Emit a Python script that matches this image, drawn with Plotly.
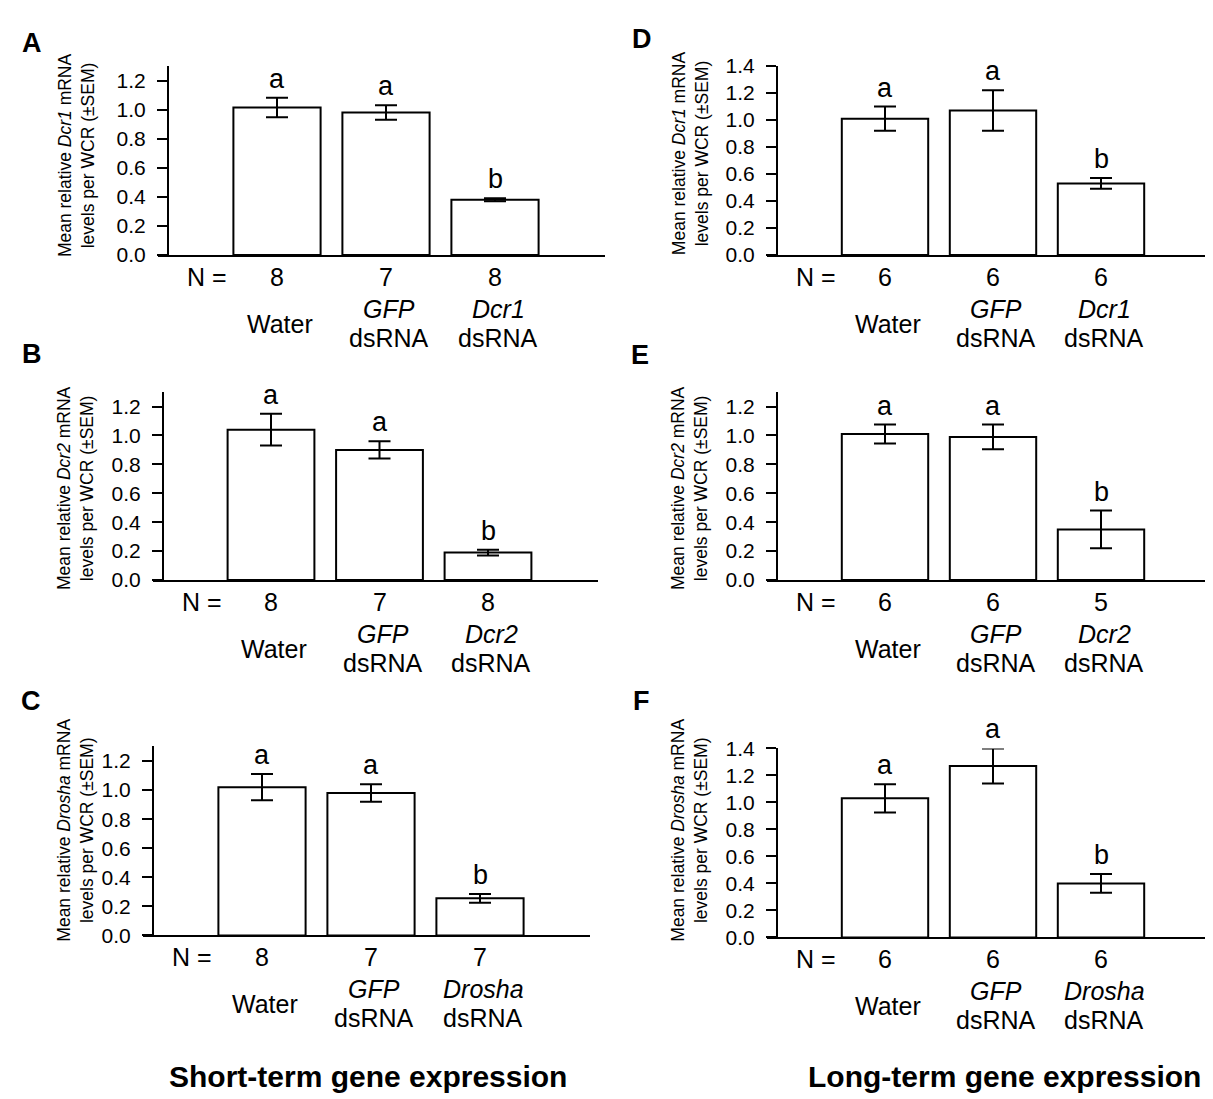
import plotly.graph_objects as go

W, H = 1213, 1099
FONT = "Liberation Sans, Arial, Helvetica, sans-serif"

# ---------------- data ----------------
panel_letters = ["A", "B", "C", "D", "E", "F"]
genes = ["Dcr1", "Dcr2", "Drosha", "Dcr1", "Dcr2", "Drosha"]

means_A = [1.015, 0.98, 0.38]
sem_A = [0.067, 0.05, 0.01]
n_A = [8, 7, 8]
sig_A = ["a", "a", "b"]

means_B = [1.04, 0.90, 0.19]
sem_B = [0.11, 0.06, 0.02]
n_B = [8, 7, 8]
sig_B = ["a", "a", "b"]

means_C = [1.02, 0.98, 0.255]
sem_C = [0.09, 0.06, 0.03]
n_C = [8, 7, 7]
sig_C = ["a", "a", "b"]

means_D = [1.01, 1.07, 0.53]
sem_D = [0.09, 0.15, 0.04]
n_D = [6, 6, 6]
sig_D = ["a", "a", "b"]

means_E = [1.01, 0.99, 0.35]
sem_E = [0.065, 0.085, 0.13]
n_E = [6, 6, 5]
sig_E = ["a", "a", "b"]

means_F = [1.03, 1.27, 0.40]
sem_F = [0.105, 0.13, 0.07]
n_F = [6, 6, 6]
sig_F = ["a", "a", "b"]

y_max = [1.3, 1.3, 1.3, 1.4, 1.3, 1.4]
tick_top = [1.2, 1.2, 1.2, 1.4, 1.2, 1.4]

column_titles = ["Short-term gene expression", "Long-term gene expression"]

all_means = [means_A, means_B, means_C, means_D, means_E, means_F]
all_sem = [sem_A, sem_B, sem_C, sem_D, sem_E, sem_F]
all_n = [n_A, n_B, n_C, n_D, n_E, n_F]
all_sig = [sig_A, sig_B, sig_C, sig_D, sig_E, sig_F]

# ---------------- layout geometry (pixels) ----------------
# yaxis_x, xaxis_left, xaxis_right, first bar centre, bar spacing, y of zero, y of top
geom = [
    (160, 150, 597, 269, 109, 240, 47),
    (155, 145, 590, 263, 108.5, 572, 380),
    (145, 135, 582, 254, 109, 935, 742),
    (769, 759, 1205, 877, 108, 240, 47),
    (769, 759, 1205, 877, 108, 572, 380),
    (769, 759, 1205, 877, 108, 937, 744),
]
title_pos = [(68, 138), (68, 478), (68, 828), (682, 136), (682, 478), (682, 828)]
letter_pos = [(24, 24), (24, 341), (23, 696), (634, 19), (632, 342), (633, 696)]


def px(x):
    return x / W


def py(y):
    return 1 - y / H


fig = go.Figure()
annotations = []
layout = {}

for i in range(6):
    yx, xl, xr, c0, sp, y0, yt = geom[i]
    k = "" if i == 0 else str(i + 1)
    xa, ya = "x" + k, "y" + k
    gene = genes[i]
    cats = [0, 1, 2]
    fig.add_trace(go.Bar(
        x=cats, y=all_means[i], xaxis=xa, yaxis=ya, width=0.8,
        marker=dict(color="white", line=dict(color="black", width=2)),
        error_y=dict(type="data", array=all_sem[i], visible=True,
                     color="black", thickness=2, width=11),
        showlegend=False, hoverinfo="skip",
    ))
    layout["xaxis" + k] = dict(
        domain=[px(xl), px(xr)], anchor=ya,
        range=[(xl - c0) / sp, (xr - c0) / sp],
        showline=True, linecolor="black", linewidth=2,
        showticklabels=False, ticks="", showgrid=False, zeroline=False,
        fixedrange=True,
    )
    ticks = [round(t * 0.2, 1) for t in range(int(round(tick_top[i] / 0.2)) + 1)]
    layout["yaxis" + k] = dict(
        domain=[py(y0), py(yt)], anchor="free", position=px(yx),
        range=[0, y_max[i]], tickvals=ticks,
        ticktext=["%.1f" % t for t in ticks],
        showline=True, linecolor="black", linewidth=2,
        ticks="outside", ticklen=10, tickwidth=2, tickcolor="black",
        ticklabelstandoff=7,
        tickfont=dict(family=FONT, size=21, color="black"),
        showgrid=False, zeroline=False, fixedrange=True,
    )
    tx, ty = title_pos[i]
    annotations.append(dict(
        text="Mean relative <i>%s</i> mRNA<br>levels per WCR (\u00b1SEM)" % gene,
        xref="paper", yref="paper", x=px(tx), y=py(ty), textangle=-90,
        showarrow=False, xanchor="center", yanchor="middle",
        font=dict(family=FONT, size=17.5, color="black"),
    ))
    lx, ly = letter_pos[i]
    annotations.append(dict(
        text="<b>%s</b>" % panel_letters[i], xref="paper", yref="paper",
        x=px(lx), y=py(ly), showarrow=False, xanchor="center", yanchor="middle",
        font=dict(family=FONT, size=27, color="black"),
    ))
    dom = ya + " domain"
    annotations.append(dict(
        text="N =", xref=xa, yref=dom, x=-0.64, y=0, yshift=-22,
        showarrow=False, xanchor="center", yanchor="middle",
        font=dict(family=FONT, size=25, color="black"),
    ))
    labels = ["Water", "<i>GFP</i><br>dsRNA", "<i>%s</i><br>dsRNA" % gene]
    for j in range(3):
        annotations.append(dict(
            text=str(all_n[i][j]), xref=xa, yref=dom, x=cats[j], y=0, yshift=-22,
            showarrow=False, xanchor="center", yanchor="middle",
            font=dict(family=FONT, size=25, color="black"),
        ))
        parts = labels[j].split("<br>")
        shifts = [-69] if len(parts) == 1 else [-54, -83]
        for part, sh in zip(parts, shifts):
            annotations.append(dict(
                text=part, xref=xa, yref=dom, x=cats[j] + 0.03, y=0, yshift=sh,
                showarrow=False, xanchor="center", yanchor="middle",
                font=dict(family=FONT, size=25, color="black"),
            ))
        annotations.append(dict(
            text=all_sig[i][j], xref=xa, yref=ya, x=cats[j],
            y=all_means[i][j] + all_sem[i][j], yshift=19,
            showarrow=False, xanchor="center", yanchor="middle",
            font=dict(family=FONT, size=27, color="black"),
        ))

for t, cx in zip(column_titles, [360, 996]):
    annotations.append(dict(
        text="<b>%s</b>" % t, xref="paper", yref="paper", x=px(cx), y=py(1079),
        showarrow=False, xanchor="center", yanchor="middle",
        font=dict(family=FONT, size=30, color="black"),
    ))

fig.update_layout(
    width=W, height=H, margin=dict(l=0, r=0, t=0, b=0),
    paper_bgcolor="white", plot_bgcolor="white",
    annotations=annotations, bargap=0.2, showlegend=False,
    **layout,
)

fig.write_html("out.html")
